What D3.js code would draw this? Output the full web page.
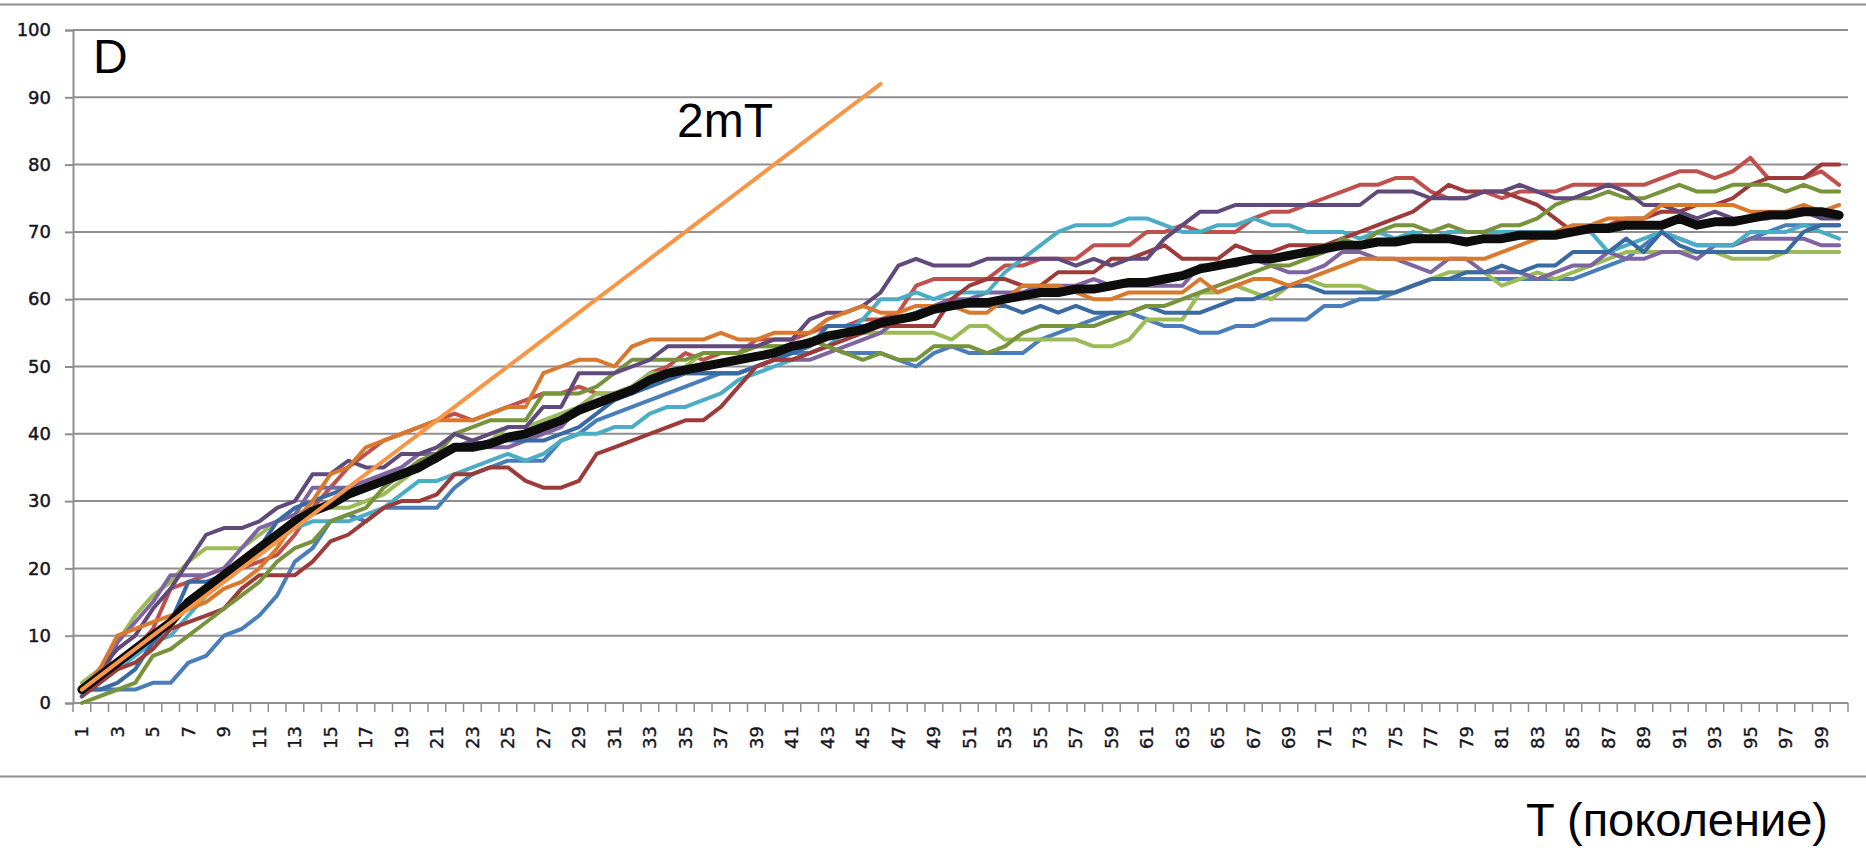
<!DOCTYPE html>
<html>
<head>
<meta charset="utf-8">
<script src="https://cdn.jsdelivr.net/npm/d3@7"></script>
<style>
  html, body { margin: 0; padding: 0; background: #ffffff; }
  svg { display: block; }
</style>
</head>
<body>
<svg id="chart" width="1866" height="850"></svg>
<script>
// Generations on the category axis
const generations = d3.range(1, 101);
const yTicks = [0, 10, 20, 30, 40, 50, 60, 70, 80, 90, 100];

// Individual runs, D per generation
const runBlue = [2,2,2,2,3,3,6,7,10,11, 13,16,21,23,27,28,27,29,29,29, 29,32,34,35,36,36,36,39,40,42, 43,44,45,46,47,48,49,49,50,51, 52,52,53,52,52,52,51,50,52,53, 52,52,52,52,54,55,56,57,58,58, 57,56,56,55,55,56,56,57,57,57, 59,59,60,60,61,62,63,63,63,63, 63,63,63,63,63,64,65,66,68,70, 69,68,68,68,69,70,71,71,71,71];
const runRed = [2,4,6,8,11,17,18,19,20,20, 21,22,25,29,32,35,37,39,40,41, 42,43,42,43,44,45,46,46,47,46, 46,47,49,50,52,51,52,52,54,54, 54,55,56,56,57,57,58,62,63,63, 63,63,65,65,66,66,66,68,68,68, 70,70,71,70,70,70,72,73,73,74, 75,76,77,77,78,78,76,75,75,76, 75,76,76,76,77,77,77,77,77,78, 79,79,78,79,81,78,78,78,79,77];
const runGreen = [3,5,9,13,16,18,21,23,23,23, 25,27,28,29,29,29,30,31,33,35, 37,38,38,39,41,41,42,43,44,46, 46,47,49,49,50,52,52,52,53,53, 53,54,55,55,55,55,55,55,55,54, 56,56,54,54,54,54,54,53,53,54, 57,57,57,61,61,62,61,60,62,63, 62,62,62,61,61,62,63,64,64,64, 62,63,64,63,64,65,66,67,67,67, 67,67,67,66,66,66,67,67,67,67];
const runPurple = [1,3,9,12,15,19,19,19,20,23, 26,27,28,32,32,32,33,34,35,37, 37,38,39,38,38,39,40,41,44,45, 46,46,48,48,49,49,49,49,50,51, 51,51,52,53,54,55,57,58,59,60, 60,61,61,61,62,62,62,63,62,62, 62,62,62,65,65,65,66,65,64,64, 65,67,67,66,66,65,64,66,66,64, 64,64,63,64,65,65,67,66,66,67, 67,66,68,68,69,69,69,69,68,68];
const runAqua = [2,3,5,7,9,10,13,16,18,20, 22,24,26,27,27,27,28,29,31,33, 33,34,35,36,37,36,37,39,40,40, 41,41,43,44,44,45,46,48,49,50, 51,52,53,55,57,60,60,61,60,61, 61,61,64,66,68,70,71,71,71,72, 72,71,70,70,71,71,72,71,71,70, 70,70,69,70,69,70,69,70,70,70, 70,70,70,70,70,70,67,68,69,70, 69,68,68,68,70,70,70,71,70,69];
const runNavy = [2,2,3,5,9,12,18,18,19,21, 23,27,29,30,31,32,32,33,34,35, 36,38,38,39,39,39,39,40,41,43, 45,46,47,48,49,49,49,49,50,51, 52,53,56,56,56,56,57,58,59,59, 59,59,59,58,59,58,59,58,58,58, 59,58,58,58,59,60,60,61,62,62, 61,61,61,61,61,62,63,63,64,64, 65,64,65,65,67,67,67,69,67,70, 68,67,67,67,67,67,67,70,71,71];
const runMaroon = [1,3,5,6,8,11,12,13,14,17, 19,19,19,21,24,25,27,29,30,30, 31,34,34,35,35,33,32,32,33,37, 38,39,40,41,42,42,44,47,50,51, 51,52,53,54,55,56,56,56,56,60, 62,63,63,62,62,64,64,64,66,66, 67,68,66,66,66,68,67,67,68,68, 68,69,70,71,72,73,75,77,76,76, 76,75,74,72,70,71,71,72,72,73, 73,74,74,75,77,78,78,78,80,80];
const runOlive = [0,1,2,3,7,8,10,12,14,16, 18,21,23,24,27,28,29,32,34,36, 37,40,41,42,42,42,46,46,46,47, 49,51,51,51,51,52,52,52,53,53, 53,54,53,52,51,52,51,51,53,53, 53,52,53,55,56,56,56,56,57,58, 59,59,60,61,62,63,64,65,65,66, 67,69,68,70,71,71,70,71,70,70, 71,71,72,74,75,75,76,75,75,76, 77,76,76,77,77,77,76,77,76,76];
const runViolet = [1,5,8,10,14,17,21,25,26,26, 27,29,30,34,34,36,35,35,37,37, 38,40,39,40,41,41,44,44,49,49, 49,50,51,53,53,53,53,53,53,54, 54,57,58,58,59,61,65,66,65,65, 65,66,66,66,66,66,65,66,65,66, 66,69,71,73,73,74,74,74,74,74, 74,74,74,76,76,76,75,75,75,76, 76,77,76,75,75,76,77,76,74,74, 73,72,73,72,72,72,73,73,72,72];
const runAmber = [2,5,10,11,12,13,14,15,17,18, 20,23,27,30,34,35,38,39,40,41, 42,42,42,43,44,44,49,50,51,51, 50,53,54,54,54,54,55,54,54,55, 55,55,57,58,59,58,58,59,59,59, 58,58,60,62,62,62,61,60,60,61, 61,61,61,63,61,62,63,63,62,63, 64,65,66,66,66,66,66,66,66,66, 67,68,69,70,71,71,72,72,72,74, 74,74,74,74,73,73,73,74,73,74];

// Mean over the runs
const meanD = [2,4,6,8,10,12,15,17,19,21, 23,25,27,28.5,29.5,31,32,33,34,35, 36.5,38,38,38.5,39.5,40,41,42,43.5,44.5, 45.5,46.5,48,49,49.5,50,50.5,51,51.5,52, 53,53.5,54.5,55,55.5,56.5,57,57.5,58.5,59, 59.5,59.5,60,60.5,61,61,61.5,61.5,62,62.5, 62.5,63,63.5,64.5,65,65.5,66,66,66.5,67, 67.5,68,68,68.5,68.5,69,69,69,68.5,69, 69,69.5,69.5,69.5,70,70.5,70.5,71,71,71, 72,71,71.5,71.5,72,72.5,72.5,73,73,72.5];

// Reference line 2mT (first 46 generations)
const twoMT = [2,4,6,8,10,12,14,16,18,20, 22,24,26,28,30,32,34,36,38,40, 42,44,46,48,50,52,54,56,58,60, 62,64,66,68,70,72,74,76,78,80, 82,84,86,88,90,92];

const runs = [runBlue, runRed, runGreen, runPurple, runAqua, runNavy, runMaroon, runOlive, runViolet, runAmber];
const runColors = ["#4a7ebb", "#c0504d", "#9bbb59", "#8064a2", "#4bacc6", "#3a6aa3", "#9c3b39", "#77933c", "#604a7b", "#d9792e"];

const svg = d3.select("#chart");
const plot = { left: 73, right: 1848, top: 30, bottom: 703 };

const x = d3.scaleBand().domain(generations).range([plot.left, plot.right]).padding(0);
const xc = g => x(g) + x.bandwidth() / 2;
const y = d3.scaleLinear().domain([0, 100]).range([plot.bottom, plot.top]);

const frameColor = "#8f8f8f";
const tickFont = "'DejaVu Sans', Verdana, sans-serif";

// Outer frame lines of the chart area
svg.append("line").attr("x1", 0).attr("x2", 1866).attr("y1", 4.5).attr("y2", 4.5)
  .attr("stroke", frameColor).attr("stroke-width", 2);
svg.append("line").attr("x1", 0).attr("x2", 1866).attr("y1", 776.5).attr("y2", 776.5)
  .attr("stroke", frameColor).attr("stroke-width", 2);

// Horizontal gridlines + y axis
const yAxis = d3.axisLeft(y).tickValues(yTicks).tickSize(8).tickPadding(14).tickFormat(d3.format("d"));
const gy = svg.append("g").attr("transform", `translate(${plot.left},0)`).call(yAxis);
gy.select(".domain").attr("stroke", frameColor).attr("stroke-width", 2);
gy.selectAll(".tick line").attr("stroke", frameColor).attr("stroke-width", 2);
gy.selectAll(".tick text")
  .attr("font-family", tickFont)
  .attr("font-size", 18).attr("fill", "#14141e")
  .attr("stroke", "#14141e").attr("stroke-width", 0.45);

svg.append("g").selectAll("line").data(yTicks.filter(v => v > 0)).join("line")
  .attr("x1", plot.left).attr("x2", plot.right)
  .attr("y1", d => y(d)).attr("y2", d => y(d))
  .attr("stroke", frameColor).attr("stroke-width", 2);

// Category axis: baseline, tick marks between generations, labels on odd generations
svg.append("line").attr("x1", plot.left).attr("x2", plot.right)
  .attr("y1", y(0)).attr("y2", y(0)).attr("stroke", frameColor).attr("stroke-width", 2);
const boundaries = generations.map(g => x(g)).concat([plot.right]);
svg.append("g").selectAll("line").data(boundaries).join("line")
  .attr("x1", d => d).attr("x2", d => d)
  .attr("y1", y(0)).attr("y2", y(0) + 9)
  .attr("stroke", frameColor).attr("stroke-width", 1.5);

const xAxis = d3.axisBottom(x).tickValues(generations.filter(g => g % 2 === 1)).tickSize(0).tickPadding(0);
const gx = svg.append("g").attr("transform", `translate(0,${y(0)})`).call(xAxis);
gx.select(".domain").remove();
gx.selectAll(".tick text")
  .attr("font-family", tickFont)
  .attr("font-size", 18).attr("fill", "#14141e")
  .attr("stroke", "#14141e").attr("stroke-width", 0.35)
  .attr("text-anchor", "end")
  .attr("transform", "translate(0,23) rotate(-90)")
  .attr("x", 0).attr("y", 0).attr("dy", "0.36em");

// Lines
const line = d3.line().x((d, i) => xc(generations[i])).y(d => y(d));

const gRuns = svg.append("g").attr("fill", "none")
  .attr("stroke-linejoin", "round").attr("stroke-linecap", "round");
gRuns.selectAll("path").data(runs).join("path")
  .attr("d", d => line(d))
  .attr("stroke", (d, i) => runColors[i])
  .attr("stroke-width", 4);

svg.append("path").datum(meanD)
  .attr("d", line).attr("fill", "none")
  .attr("stroke", "#0d0d0d").attr("stroke-width", 9)
  .attr("stroke-linejoin", "round").attr("stroke-linecap", "round");

svg.append("path").datum(twoMT)
  .attr("d", line).attr("fill", "none")
  .attr("stroke", "#f79646").attr("stroke-width", 4)
  .attr("stroke-linejoin", "round").attr("stroke-linecap", "round");

// Annotations
const labelFont = "'Liberation Sans', Arial, sans-serif";
svg.append("text").attr("x", 93).attr("y", 73)
  .attr("font-family", labelFont).attr("font-size", 48).attr("fill", "#000").text("D");
svg.append("text").attr("x", 677).attr("y", 137)
  .attr("font-family", labelFont).attr("font-size", 48).attr("fill", "#000").text("2mT");
svg.append("text").attr("x", 1828).attr("y", 836).attr("text-anchor", "end")
  .attr("font-family", labelFont).attr("font-size", 47).attr("fill", "#000").text("T (поколение)");
</script>
</body>
</html>
